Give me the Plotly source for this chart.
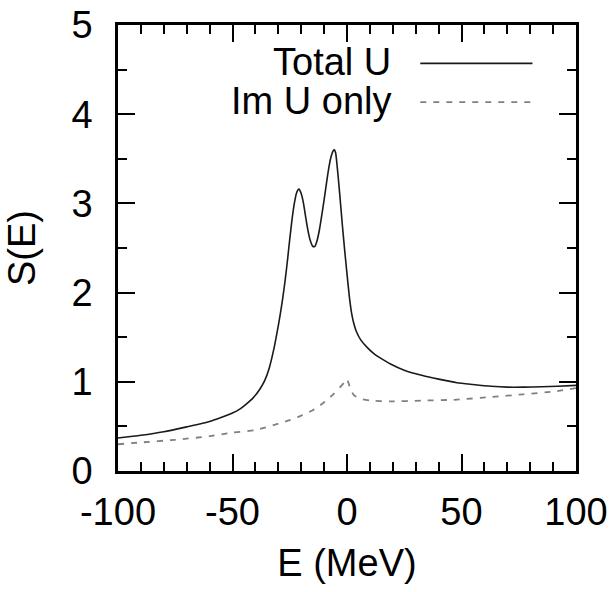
import plotly.graph_objects as go

# ---- data ----
E_total = [-100, -90, -80, -70, -60, -55, -50, -47, -44, -41, -38, -36, -34, -32, -31, -30, -29,
           -28, -27, -26, -25, -24, -23, -22, -21, -20, -19, -18, -17, -16, -15, -14, -13, -12, -11,
           -10, -9, -8, -7, -6, -5.5, -5, -4, -3, -2, -1, 0, 1, 2, 3, 4, 6, 9, 12, 15, 19,
           25, 33, 40, 48, 55, 63, 70, 77, 85, 92, 100]
S_total = [0.37, 0.40, 0.44, 0.495, 0.555, 0.60, 0.65, 0.69, 0.75, 0.82, 0.92, 1.01, 1.15, 1.36, 1.49, 1.63, 1.78,
           1.95, 2.14, 2.36, 2.60, 2.82, 3.00, 3.12, 3.16, 3.11, 3.00, 2.84, 2.69, 2.58, 2.52, 2.52, 2.59, 2.71, 2.87,
           3.04, 3.22, 3.39, 3.52, 3.59, 3.60, 3.57, 3.34, 3.05, 2.75, 2.47, 2.21, 1.96, 1.77, 1.65, 1.57, 1.47, 1.38, 1.31, 1.26, 1.20,
           1.13, 1.07, 1.03, 0.99, 0.97, 0.95, 0.94, 0.94, 0.945, 0.95, 0.96]

E_im = [-100, -90, -75, -60, -50, -40, -30, -25, -20, -15, -10, -6, -3, -1, -0.3, 0.5, 1.5,
        3, 6, 10, 19, 33, 48, 63, 77, 90, 100]
S_im = [0.30, 0.32, 0.35, 0.39, 0.43, 0.46, 0.53, 0.57, 0.62, 0.68, 0.77, 0.86, 0.94, 1.0, 1.03, 1.0, 0.92,
        0.85, 0.81, 0.79, 0.78, 0.79, 0.80, 0.83, 0.86, 0.89, 0.93]

x_ticks = [-100, -50, 0, 50, 100]
y_ticks = [0, 1, 2, 3, 4, 5]
legend_labels = ["Total U", "Im U only"]

FONT = "Liberation Sans, Arial, Helvetica, sans-serif"
FS = 38

fig = go.Figure()
fig.add_trace(go.Scatter(x=E_total, y=S_total, mode="lines", name=legend_labels[0],
                         line=dict(color="#1a1a1a", width=1.6, shape="spline", smoothing=0.6)))
fig.add_trace(go.Scatter(x=E_im, y=S_im, mode="lines", name=legend_labels[1],
                         line=dict(color="#808080", width=1.8, dash="6px,7px", shape="spline", smoothing=0.6)))

axis_common = dict(showline=True, linecolor="black", linewidth=2.5, mirror="ticks",
                   ticks="inside", ticklen=17, tickwidth=2, tickcolor="black",
                   showgrid=False, zeroline=False, automargin=False,
                   tickfont=dict(family=FONT, size=FS, color="black"))

fig.update_xaxes(range=[-100, 100], tickvals=x_ticks, ticktext=[str(v) for v in x_ticks],
                 minor=dict(dtick=10, ticks="inside", ticklen=9, tickwidth=2, tickcolor="black"),
                 title=dict(text="E (MeV)", font=dict(family=FONT, size=FS, color="black"), standoff=18),
                 ticklabelstandoff=6, **axis_common)
fig.update_yaxes(range=[0, 5], tickvals=y_ticks, ticktext=[str(v) for v in y_ticks],
                 minor=dict(dtick=0.5, ticks="inside", ticklen=9, tickwidth=2, tickcolor="black"),
                 title=dict(text="S(E)", font=dict(family=FONT, size=FS, color="black"), standoff=25),
                 ticklabelstandoff=15, **axis_common)

# gnuplot-style key: text right-aligned, sample line to the right
key_y = [0.917, 0.830]
key_dash = ["solid", "6px,7px"]
key_col = ["#1a1a1a", "#808080"]
for lab, yy, dsh, col in zip(legend_labels, key_y, key_dash, key_col):
    fig.add_annotation(x=0.600, y=yy, xref="paper", yref="paper", text=lab, showarrow=False,
                       xanchor="right", yanchor="middle",
                       font=dict(family=FONT, size=FS, color="black"))
    fig.add_shape(type="line", xref="paper", yref="paper", x0=0.660, x1=0.905, y0=yy - 0.003, y1=yy - 0.003,
                  line=dict(color=col, width=1.8, dash=dsh))

fig.update_layout(width=612, height=592, showlegend=False,
                  margin=dict(l=118, r=36, t=25, b=121),
                  paper_bgcolor="white", plot_bgcolor="white",
                  font=dict(family=FONT, size=FS, color="black"))

fig.write_html("out.html")
